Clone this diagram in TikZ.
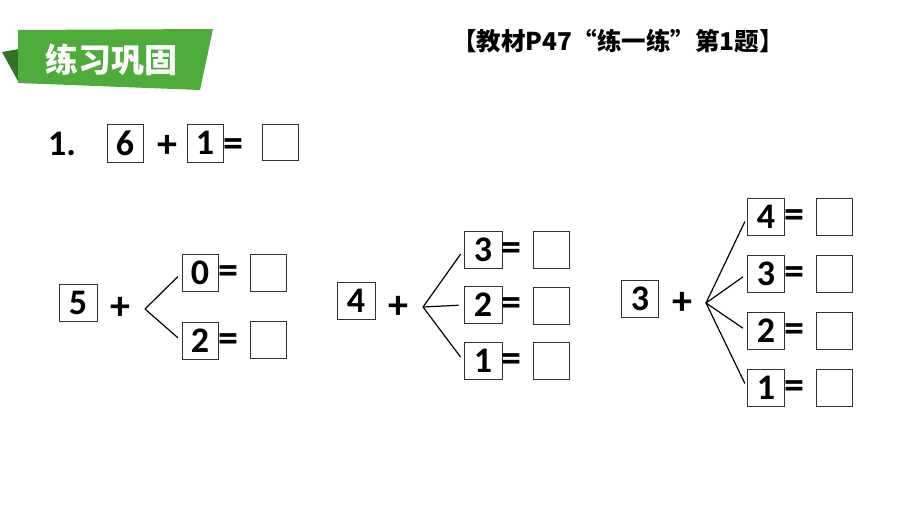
\documentclass[tikz,border=0pt]{standalone}
\usepackage{fontspec}
\setmainfont{Carlito}
\newfontfamily\cjk{Noto Sans CJK SC}
\usepackage{tikz}

\definecolor{bannergreen}{RGB}{78,172,58}
\definecolor{flapgreen}{RGB}{52,112,38}

\tikzset{
  numbox/.style={draw=black!80, line width=0.9pt, minimum width=36, minimum height=37, inner sep=0pt,
    font=\fontsize{36}{36}\selectfont\bfseries},
  blankbox/.style={draw=black!80, line width=0.9pt, minimum width=36, minimum height=37, inner sep=0pt},
  sign/.style={inner sep=0pt, font=\fontsize{40}{40}\selectfont\bfseries},
  branch/.style={line width=1.2pt, shorten >=5pt}
}

\begin{document}
\begin{tikzpicture}[x=1pt,y=1pt,yscale=-1,xscale=1]
\useasboundingbox (0,0) rectangle (920,518);

%Banner
\fill[flapgreen] (2,52) -- (19,49) -- (19,83) -- cycle ;
\fill[bannergreen] (18,30) -- (213,29) -- (200,90) -- (18,83) -- cycle ;
\node (banner) at (111,60) [inner sep=0pt, text=white, font=\cjk\fontsize{33}{33}\selectfont\bfseries] {练习巩固};

% Title
\node (title) at (618,41) [inner sep=0pt, font=\cjk\fontsize{24.5}{24.5}\selectfont\bfseries] {【教材P47“练一练”第1题】};

% Row 1
\node (no) at (62,144) [sign, font=\fontsize{36}{36}\selectfont\bfseries] {1.};
\node (a6) at (125,143) [numbox, minimum height=38] {6};
\node (p0) at (167,146) [sign] {+};
\node (a1) at (205,143) [numbox, minimum height=38] {1};
\node (e0) at (233,148) [sign] {=};
\node (r0) at (280,142) [blankbox, minimum height=36] {};

% Group 1
\node (g5) at (78,303) [numbox, minimum width=38] {5};
\node (p1) at (120,308) [sign] {+};
\coordinate (b1) at (145,309);
\node (g10) at (200,273) [numbox] {0};
\node (g12) at (200,341) [numbox] {2};
\node (e10) at (228,275) [sign] {=};
\node (e12) at (228,343) [sign] {=};
\node (r10) at (268,273) [blankbox] {};
\node (r12) at (268,340) [blankbox] {};
\draw[branch] (b1) -- (g10.west) ;
\draw[branch] (b1) -- (g12.west) ;

% Group 2
\node (g4) at (356,301) [numbox, minimum width=38] {4};
\node (p2) at (398,307) [sign] {+};
\coordinate (b2) at (423,307);
\node (g23) at (483,250) [numbox, minimum width=38] {3};
\node (g22) at (483,305) [numbox, minimum width=38] {2};
\node (g21) at (483,361) [numbox, minimum width=38] {1};
\node (e23) at (511,252) [sign] {=};
\node (e22) at (511,307) [sign] {=};
\node (e21) at (511,363) [sign] {=};
\node (r23) at (551,250) [blankbox] {};
\node (r22) at (551,306) [blankbox] {};
\node (r21) at (551,361) [blankbox] {};
\draw[branch] (b2) -- (g23.west) ;
\draw[branch] (b2) -- (g22.west) ;
\draw[branch] (b2) -- (g21.west) ;

% Group 3
\node (g3) at (640,299) [numbox, minimum width=37] {3};
\node (p3) at (682,303) [sign] {+};
\coordinate (b3) at (706,303);
\node (g34) at (766,217) [numbox, minimum width=37] {4};
\node (g33) at (766,274) [numbox, minimum width=37] {3};
\node (g32) at (766,331) [numbox, minimum width=37] {2};
\node (g31) at (766,388) [numbox, minimum width=37] {1};
\node (e34) at (794,219) [sign] {=};
\node (e33) at (794,276) [sign] {=};
\node (e32) at (794,333) [sign] {=};
\node (e31) at (794,390) [sign] {=};
\node (r34) at (834,217) [blankbox] {};
\node (r33) at (834,274) [blankbox] {};
\node (r32) at (834,331) [blankbox] {};
\node (r31) at (834,388) [blankbox] {};
\draw[branch] (b3) -- (g34.west) ;
\draw[branch] (b3) -- (g33.west) ;
\draw[branch] (b3) -- (g32.west) ;
\draw[branch] (b3) -- (g31.west) ;

\end{tikzpicture}
\end{document}
